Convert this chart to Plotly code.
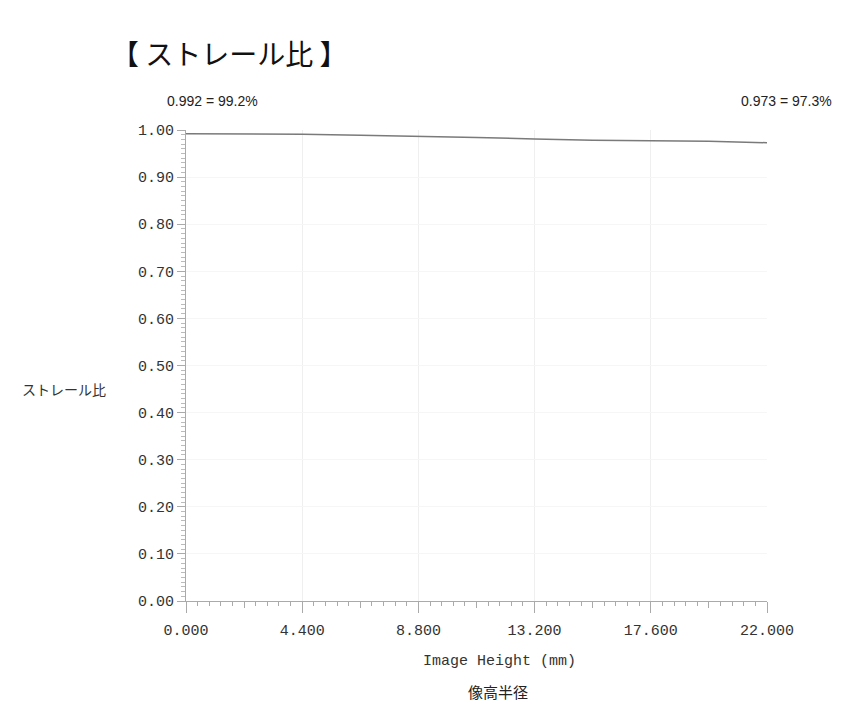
import plotly.graph_objects as go

# data
image_height = [0.0, 2.2, 4.4, 6.6, 8.8, 11.0, 13.2, 15.4, 17.6, 19.8, 22.0]
strehl = [0.992, 0.992, 0.991, 0.989, 0.987, 0.984, 0.981, 0.978, 0.977, 0.976, 0.973]

x_tick_vals = [0.0, 4.4, 8.8, 13.2, 17.6, 22.0]
x_tick_text = ["0.000", "4.400", "8.800", "13.200", "17.600", "22.000"]
x_mid_vals = [2.2, 6.6, 11.0, 15.4, 19.8]
y_tick_vals = [0.0, 0.1, 0.2, 0.3, 0.4, 0.5, 0.6, 0.7, 0.8, 0.9, 1.0]
y_tick_text = ["0.00", "0.10", "0.20", "0.30", "0.40", "0.50", "0.60", "0.70", "0.80", "0.90", "1.00"]

title_text = "【 ストレール比 】"
start_label = "0.992 = 99.2%"
end_label = "0.973 = 97.3%"
y_title = "ストレール比"
x_title = "Image Height (mm)"
x_title_jp = "像高半径"

mono = "Liberation Mono, Courier New, monospace"
cjk = "Noto Sans CJK JP, sans-serif"
sans = "Liberation Sans, Arial, sans-serif"

W, H = 849, 713  # page body has an 8px margin

fig = go.Figure()
fig.add_trace(go.Scatter(x=image_height, y=strehl, mode="lines",
                         line=dict(color="#7a7a7a", width=1.5), showlegend=False,
                         hoverinfo="skip"))
# invisible trace to anchor secondary axis for medium ticks
fig.add_trace(go.Scatter(x=[0, 22], y=[0, 0], xaxis="x2", mode="lines",
                         line=dict(width=0), showlegend=False, hoverinfo="skip"))

fig.update_layout(
    width=W, height=H,
    margin=dict(l=178, r=90, t=122, b=120),
    paper_bgcolor="white", plot_bgcolor="white",
    title=dict(text=title_text, x=103/W, xanchor="left", xref="container",
               y=1-47/H, yanchor="middle", yref="container",
               font=dict(family=cjk, size=28, color="#111")),
    xaxis=dict(range=[0, 22], tickvals=x_tick_vals, ticktext=x_tick_text,
               showgrid=True, gridcolor="#efefef", gridwidth=1,
               zeroline=False, showline=True, linecolor="#aaaaaa", linewidth=1,
               ticks="outside", ticklen=11, tickcolor="#aaaaaa", tickwidth=1,
               ticklabelstandoff=4,
               minor=dict(dtick=0.44, tick0=0, ticks="outside", ticklen=4,
                          tickcolor="#aaaaaa", showgrid=False),
               tickfont=dict(family=mono, size=15, color="#333")),
    xaxis2=dict(range=[0, 22], overlaying="x", side="bottom", anchor="y",
                tickvals=x_mid_vals, showticklabels=False, ticks="outside",
                ticklen=6, tickcolor="#aaaaaa", showgrid=False, zeroline=False,
                showline=False),
    yaxis=dict(range=[0, 1.0], tickvals=y_tick_vals, ticktext=y_tick_text,
               showgrid=True, gridcolor="#f6f6f6", zeroline=False,
               showline=True, linecolor="#aaaaaa", linewidth=1,
               ticks="outside", ticklen=8, tickcolor="#aaaaaa",
               minor=dict(dtick=0.01, tick0=0, ticks="outside", ticklen=4,
                          tickcolor="#bbbbbb", showgrid=False),
               tickfont=dict(family=mono, size=15, color="#333")),
)

fig.add_annotation(text=start_label, x=0, xref="paper", y=(601-101)/471, yref="paper",
                   xanchor="left", yanchor="middle", xshift=-21, showarrow=False,
                   font=dict(family=sans, size=14, color="#222"))
fig.add_annotation(text=end_label, x=1, xref="paper", y=(601-101)/471, yref="paper",
                   xanchor="right", yanchor="middle", xshift=67, showarrow=False,
                   font=dict(family=sans, size=14, color="#222"))
fig.add_annotation(text=y_title, x=0, xref="paper", y=(601-389)/471, yref="paper",
                   xanchor="right", yanchor="middle", xshift=-78, showarrow=False,
                   font=dict(family=cjk, size=14, color="#333"))
fig.add_annotation(text=x_title, x=(499-186)/581, xref="paper", y=(601-661)/471, yref="paper",
                   xanchor="center", yanchor="middle", showarrow=False,
                   font=dict(family=mono, size=15, color="#333"))
fig.add_annotation(text=x_title_jp, x=(498-186)/581, xref="paper", y=(601-691)/471, yref="paper",
                   xanchor="center", yanchor="middle", showarrow=False,
                   font=dict(family=cjk, size=15, color="#222"))

fig.write_html("out.html")
